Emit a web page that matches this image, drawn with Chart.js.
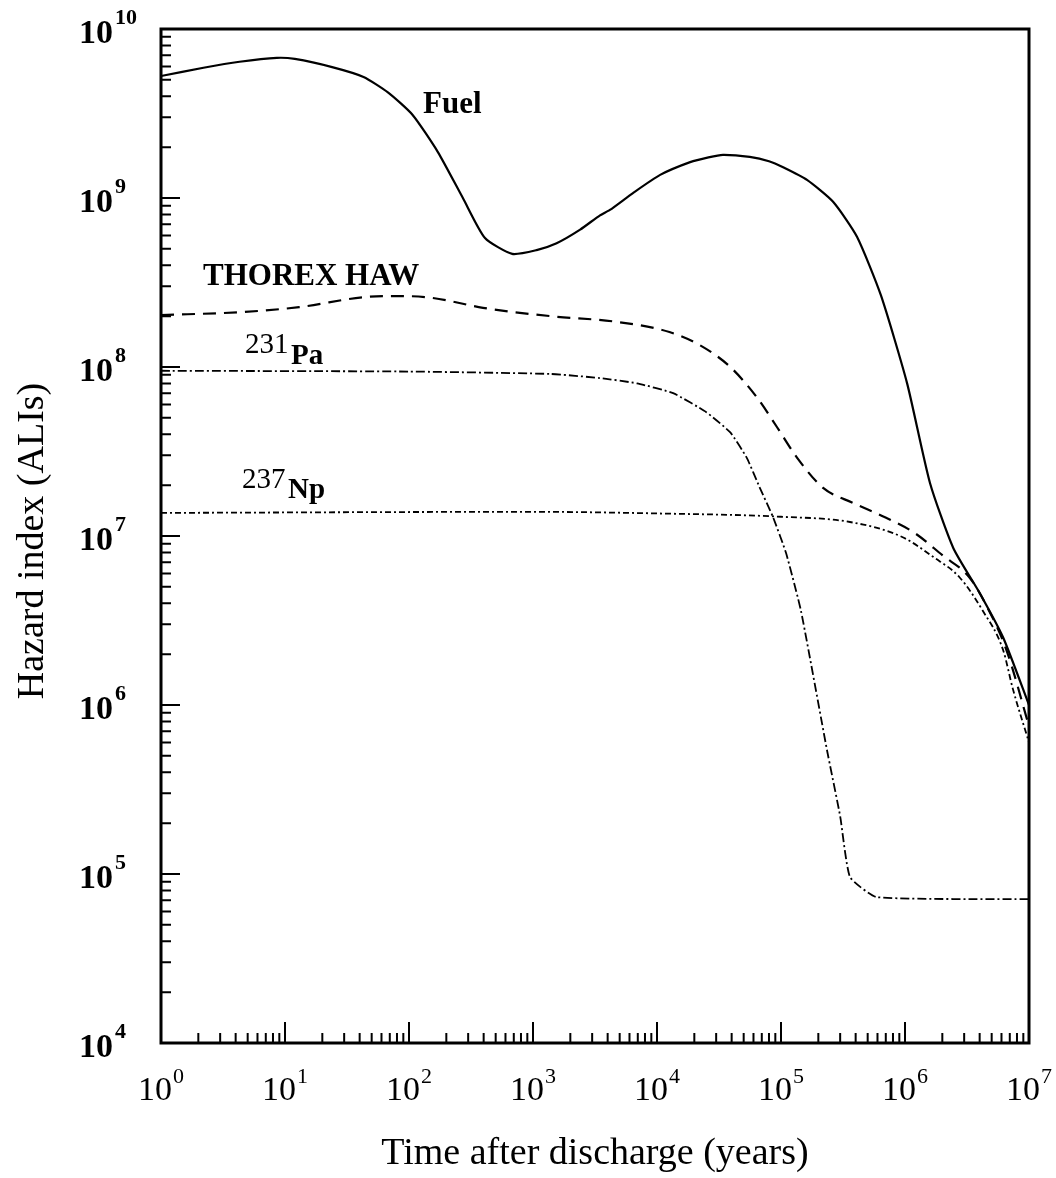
<!DOCTYPE html>
<html><head><meta charset="utf-8">
<script src="https://cdn.jsdelivr.net/npm/chart.js@4.4.1/dist/chart.umd.min.js"></script>
<style>html,body{margin:0;padding:0;background:#fff}canvas{display:block}</style>
</head><body>
<canvas id="c" width="1056" height="1178"></canvas>
<script>
// ---- data ----
const fuelT = [1, 2.2, 4.3, 8.6, 12, 24, 43, 68, 107, 171, 272, 410, 680, 1070, 1550, 2400, 3470, 4170, 6400, 10600, 18500, 26000, 34000, 56000, 80000, 104000, 162000, 263000, 410000, 640000, 1040000, 1590000, 2450000, 4000000, 6200000, 10000000];
const fuelV = [5.27e9, 5.9e9, 6.4e9, 6.75e9, 6.65e9, 5.95e9, 5.2e9, 4.2e9, 3.1e9, 1.87e9, 1.0e9, 5.8e8, 4.67e8, 4.92e8, 5.4e8, 6.5e8, 7.9e8, 8.5e8, 1.07e9, 1.37e9, 1.63e9, 1.74e9, 1.8e9, 1.75e9, 1.65e9, 1.52e9, 1.28e9, 9.5e8, 5.9e8, 2.65e8, 8.0e7, 2.06e7, 8.5e6, 4.6e6, 2.5e6, 1.0e6];

const thorexT = [1, 4.3, 13, 46, 84, 156, 395, 1380, 4750, 12600, 22000, 39000, 64000, 93000, 135000, 220000, 380000, 690000, 1200000, 2000000, 3300000, 4600000, 6600000, 10000000];
const thorexV = [2.03e8, 2.11e8, 2.26e8, 2.6e8, 2.63e8, 2.56e8, 2.24e8, 2.0e8, 1.85e8, 1.61e8, 1.35e8, 1.0e8, 6.6e7, 4.4e7, 2.9e7, 1.92e7, 1.57e7, 1.29e7, 1.04e7, 7.7e6, 5.7e6, 3.8e6, 2.1e6, 7.5e5];

const paT = [1, 100, 1380, 3470, 6900, 13500, 25000, 39000, 53000, 67000, 86000, 110000, 145000, 235000, 300000, 360000, 590000, 10000000];
const paV = [9.5e7, 9.4e7, 9.1e7, 8.6e7, 8.0e7, 7.0e7, 5.4e7, 4.1e7, 2.9e7, 1.95e7, 1.3e7, 7.9e6, 3.6e6, 5.4e5, 2.2e5, 9.6e4, 7.3e4, 7.1e4];

const npT = [1, 1000, 10000, 100000, 360000, 940000, 1700000, 2750000, 4200000, 6200000, 7400000, 10000000];
const npV = [1.37e7, 1.39e7, 1.36e7, 1.3e7, 1.21e7, 9.9e6, 7.5e6, 5.7e6, 3.65e6, 2.1e6, 1.25e6, 6.0e5];

const xTickExps = [0, 1, 2, 3, 4, 5, 6, 7];
const yTickExps = [4, 5, 6, 7, 8, 9, 10];
const xTitle = 'Time after discharge (years)';
const yTitle = 'Hazard index (ALIs)';

// ---- chart ----
const FONT = '"Liberation Serif", "Times New Roman", Times, serif';
const pts = (t, v) => t.map((x, i) => ({x: x, y: v[i]}));

const decor = {
  id: 'decor',
  beforeDraw(chart) {
    const ctx = chart.ctx;
    ctx.save();
    ctx.fillStyle = '#fff';
    ctx.fillRect(0, 0, chart.width, chart.height);
    ctx.restore();
  },
  afterDraw(chart) {
    const ctx = chart.ctx;
    const a = chart.chartArea;
    const xs = chart.scales.x, ys = chart.scales.y;
    ctx.save();
    ctx.strokeStyle = '#000';
    ctx.fillStyle = '#000';
    // frame
    ctx.lineWidth = 3;
    ctx.strokeRect(a.left, a.top, a.right - a.left, a.bottom - a.top);
    // ticks
    ctx.lineWidth = 2;
    ctx.beginPath();
    yTickExps.forEach((e, i) => {
      const p = ys.getPixelForValue(Math.pow(10, e));
      ctx.moveTo(a.left, p); ctx.lineTo(a.left + 19, p);
      if (i < yTickExps.length - 1) {
        for (let k = 2; k <= 9; k++) {
          const q = ys.getPixelForValue(k * Math.pow(10, e));
          ctx.moveTo(a.left, q); ctx.lineTo(a.left + 10, q);
        }
      }
    });
    xTickExps.forEach((e, i) => {
      const p = xs.getPixelForValue(Math.pow(10, e));
      ctx.moveTo(p, a.bottom); ctx.lineTo(p, a.bottom - 21);
      if (i < xTickExps.length - 1) {
        for (let k = 2; k <= 9; k++) {
          const q = xs.getPixelForValue(k * Math.pow(10, e));
          ctx.moveTo(q, a.bottom); ctx.lineTo(q, a.bottom - 10);
        }
      }
    });
    ctx.stroke();

    // y tick labels
    ctx.textBaseline = 'alphabetic';
    yTickExps.forEach(e => {
      const p = ys.getPixelForValue(Math.pow(10, e));
      ctx.font = `bold 34px ${FONT}`;
      ctx.textAlign = 'right';
      ctx.fillText('10', 113, p + 14);
      ctx.font = `bold 22px ${FONT}`;
      ctx.textAlign = 'left';
      ctx.fillText(String(e), 115, p - 5);
    });
    // x tick labels
    xTickExps.forEach(e => {
      const p = xs.getPixelForValue(Math.pow(10, e));
      ctx.font = `34px ${FONT}`;
      const wb = ctx.measureText('10').width;
      ctx.font = `22px ${FONT}`;
      const we = ctx.measureText(String(e)).width;
      const x0 = p - (wb + we + 1) / 2;
      ctx.textAlign = 'left';
      ctx.font = `34px ${FONT}`;
      ctx.fillText('10', x0, 1100);
      ctx.font = `22px ${FONT}`;
      ctx.fillText(String(e), x0 + wb + 1, 1083);
    });
    // axis titles
    ctx.font = `38px ${FONT}`;
    ctx.textAlign = 'center';
    ctx.fillText(xTitle, 595, 1164);
    ctx.save();
    ctx.translate(43, 541);
    ctx.rotate(-Math.PI / 2);
    ctx.fillText(yTitle, 0, 0);
    ctx.restore();

    // curve labels
    ctx.textAlign = 'left';
    ctx.font = `bold 31px ${FONT}`;
    ctx.fillText('Fuel', 423, 113);
    ctx.fillText('THOREX HAW', 203, 285);
    ctx.font = `29px ${FONT}`;
    ctx.fillText('231', 245, 353);
    ctx.fillText('237', 242, 488);
    ctx.font = `bold 29px ${FONT}`;
    ctx.fillText('Pa', 291, 364);
    ctx.fillText('Np', 288, 498);
    ctx.restore();
  }
};

new Chart(document.getElementById('c'), {
  type: 'line',
  data: {
    datasets: [
      {label: 'Fuel', data: pts(fuelT, fuelV), borderColor: '#000', borderWidth: 2.2, pointRadius: 0, tension: 0.2, fill: false},
      {label: 'THOREX HAW', data: pts(thorexT, thorexV), borderColor: '#000', borderWidth: 2.2, borderDash: [13, 8], pointRadius: 0, cubicInterpolationMode: 'monotone', fill: false},
      {label: '231Pa', data: pts(paT, paV), borderColor: '#000', borderWidth: 1.8, borderDash: [9, 3, 2, 3], pointRadius: 0, tension: 0.15, fill: false},
      {label: '237Np', data: pts(npT, npV), borderColor: '#000', borderWidth: 1.8, borderDash: [6, 3, 2, 3], pointRadius: 0, cubicInterpolationMode: 'monotone', fill: false}
    ]
  },
  options: {
    responsive: false,
    animation: false,
    devicePixelRatio: 1,
    layout: {padding: {left: 161, right: 27, top: 29, bottom: 135}},
    plugins: {legend: {display: false}, title: {display: false}, tooltip: {enabled: false}},
    scales: {
      x: {type: 'logarithmic', min: 1, max: 1e7, display: false},
      y: {type: 'logarithmic', min: 1e4, max: 1e10, display: false}
    }
  },
  plugins: [decor]
});
</script>
</body></html>
